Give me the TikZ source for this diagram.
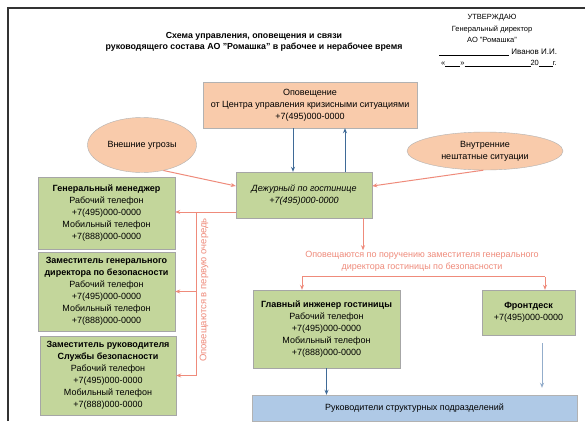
\documentclass[tikz,border=0pt]{standalone}
\usepackage{fontspec}
\setmainfont{Liberation Sans}
\usetikzlibrary{shapes.geometric,arrows.meta,shadows,calc}
\definecolor{gfill}{HTML}{C3D69B}
\definecolor{ofill}{HTML}{F9CBAB}
\definecolor{bfill}{HTML}{AFC9E6}
\definecolor{salm}{HTML}{EF8B7B}
\definecolor{darrow}{HTML}{3F6A97}
\definecolor{larrow}{HTML}{93ADCB}
\begin{document}
\begin{tikzpicture}[x=1pt,y=-1pt,
  every node/.style={font=\fontsize{9}{12}\selectfont, inner sep=1pt},
  gbox/.style={rectangle, draw=black!35, fill=gfill, align=center, drop shadow={opacity=0.35,shadow xshift=1pt,shadow yshift=-1pt}},
  obox/.style={rectangle, draw=black!30, fill=ofill, align=center, drop shadow={opacity=0.3,shadow xshift=1pt,shadow yshift=-1pt}},
  bbox/.style={rectangle, draw=black!30, fill=bfill, align=center},
  oell/.style={ellipse, draw=black!30, fill=ofill, align=center, inner sep=0pt},
  sline/.style={draw=salm, line width=1pt},
  sarr/.style={sline, -{Stealth[length=5pt,width=4pt]}},
  barr/.style={draw=darrow, line width=1pt, -{Stealth[length=5pt,width=4pt]}},
  lbarr/.style={draw=larrow, line width=1pt, -{Stealth[length=5pt,width=4pt]}},
  stext/.style={text=salm, align=center}
]
\useasboundingbox (0,0) rectangle (585,421);
\fill[white] (0,0) rectangle (585,421);
% frame
\draw[black!80, line width=1.3pt] (8,421) -- (8,8) -- (585,8);
% title
\node[align=center, font=\fontsize{8.8}{11}\selectfont\bfseries] (title) at (254,41.5)
  {Схема управления, оповещения и связи\\руководящего состава АО "Ромашка" в рабочее и нерабочее время};
\node[align=center, font=\fontsize{7.5}{11.5}\selectfont] (appr) at (492,28.5)
  {УТВЕРЖДАЮ\\Генеральный директор\\АО "Ромашка"};
\node[anchor=west, font=\fontsize{8}{11}\selectfont] (sign) at (438,52) {\rule[-1pt]{70pt}{0.4pt}\ Иванов И.И.};
\node[anchor=west, font=\fontsize{7.5}{11}\selectfont] (date) at (440,63) {«\rule[-1pt]{15pt}{0.4pt}»\rule[-1pt]{66pt}{0.4pt}20\rule[-1pt]{14pt}{0.4pt}г.};
% nodes
\node[obox, minimum width=214pt, minimum height=46pt] (orange) at (310,105)
  {Оповещение\\от Центра управления кризисными ситуациями\\+7(495)000-0000};
\node[oell, minimum width=109pt, minimum height=55pt] (ellL) at (142,145) {Внешние угрозы};
\node[oell, minimum width=156pt, minimum height=38pt] (ellR) at (485,151) {Внутренние\\нештатные ситуации};
\node[gbox, minimum width=136pt, minimum height=46pt, font=\fontsize{9}{12}\selectfont\itshape] (duty) at (304,195)
  {Дежурный по гостинице\\+7(495)000-0000};
\node[gbox, minimum width=137pt, minimum height=72pt] (box1) at (106.5,213)
  {\textbf{Генеральный менеджер}\\Рабочий телефон\\+7(495)000-0000\\Мобильный телефон\\+7(888)000-0000};
\node[gbox, minimum width=137pt, minimum height=79pt] (box2) at (106.5,291.5)
  {\textbf{Заместитель генерального}\\\textbf{директора по безопасности}\\Рабочий телефон\\+7(495)000-0000\\Мобильный телефон\\+7(888)000-0000};
\node[gbox, minimum width=136pt, minimum height=79pt] (box3) at (108,375.5)
  {\textbf{Заместитель руководителя}\\\textbf{Службы безопасности}\\Рабочий телефон\\+7(495)000-0000\\Мобильный телефон\\+7(888)000-0000};
\node[gbox, minimum width=147pt, minimum height=78pt] (eng) at (326.5,329)
  {\textbf{Главный инженер гостиницы}\\Рабочий телефон\\+7(495)000-0000\\Мобильный телефон\\+7(888)000-0000};
\node[gbox, minimum width=93pt, minimum height=45pt] (front) at (528.5,312.5)
  {\textbf{Фронтдеск}\\+7(495)000-0000};
\node[bbox, minimum width=325pt, minimum height=26pt] (heads) at (414.5,408)
  {Руководители структурных подразделений};
\node[stext] (order) at (422,261.5)
  {Оповещаются по поручению заместителя генерального\\директора гостиницы по безопасности};
\node[stext, rotate=90, font=\fontsize{9.5}{12}\selectfont] (first) at (204,290) {Оповещаются в первую очередь};
% blue connectors orange <-> duty
\coordinate (a1) at ($(orange.south)+(-17,0)$);
\draw[barr] (a1) -- (a1 |- duty.north);
\coordinate (a2) at ($(duty.north)+(41,0)$);
\draw[barr] (a2) -- (a2 |- orange.south);
% threats
\draw[sarr] (ellL.-50) -- ($(duty.west)+(0,-9)$);
\draw[sarr] (ellR.-95) -- ($(duty.east)+(0,-9)$);
% first-order notifications
\coordinate (d1) at ($(duty.west)+(0,17)$);
\coordinate (v1) at (196,212);
\draw[sarr] (d1) -- (d1 -| box1.east);
\draw[sline] (v1) -- (v1 |- box3.east);
\draw[sarr] (v1 |- box2.east) -- (box2.east);
\draw[sarr] (v1 |- box3.east) -- (box3.east);
% duty -> order text
\coordinate (d2) at ($(duty.south)+(59,0)$);
\draw[sarr] (d2) -- (d2 |- order.north);
% bracket
\coordinate (bl) at ($(eng.north)+(-24.5,-13)$);
\coordinate (br) at ($(front.north)+(16.5,-13)$);
\draw[sline] (bl) -- (br);
\draw[sarr] (bl) -- (bl |- eng.north);
\draw[sarr] (br) -- (br |- front.north);
% to heads
\draw[barr] (eng.south) -- (eng.south |- heads.north);
\coordinate (f1) at ($(front.south)+(13.5,8)$);
\draw[lbarr] (f1) -- ($(f1 |- heads.north)+(0,-7)$);
\end{tikzpicture}
\end{document}
